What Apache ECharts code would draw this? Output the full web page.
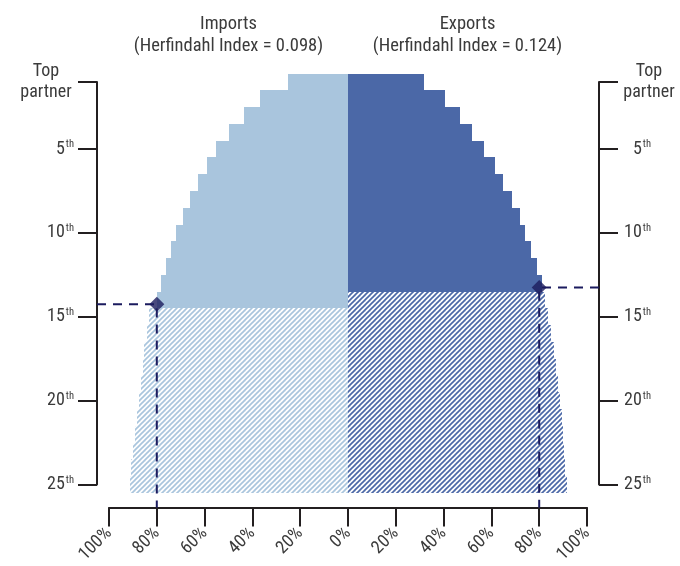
<!DOCTYPE html>
<html>
<head>
<meta charset="utf-8">
<script src="https://cdn.jsdelivr.net/npm/echarts@6/dist/echarts.min.js"></script>
<style>
  html, body { margin: 0; padding: 0; background: #fff; }
  #chart { width: 680px; height: 566px; }
</style>
</head>
<body>
<div id="chart"></div>
<script>
// Partner rank, from the top partner down to the 25th
const ranks = [1, 2, 3, 4, 5, 6, 7, 8, 9, 10, 11, 12, 13, 14, 15, 16, 17, 18, 19, 20, 21, 22, 23, 24, 25];

// Cumulative share of trade covered by the top N partners (%)
const importShares = [25.3, 36.7, 43.6, 49.6, 55.4, 59.2, 62.8, 66.0, 69.2, 71.8, 73.9, 76.1, 78.1, 80.0,
                      83.3, 84.2, 85.2, 85.8, 86.7, 87.5, 88.3, 89.2, 90.0, 90.6, 91.3];
const exportShares = [31.7, 40.4, 46.7, 51.8, 56.7, 61.3, 64.9, 68.6, 72.0, 74.0, 76.4, 78.9, 81.0, 82.5,
                      83.8, 85.0, 86.3, 87.1, 87.9, 88.8, 89.4, 90.0, 90.4, 91.0, 91.5];

// Number of partners needed to reach the 80% mark
const coverageShare = 80;
const importPartnersAt80 = 14.25;
const exportPartnersAt80 = 13.25;

const rankTicks = [1, 5, 10, 15, 20, 25];
const sideTitles = ['Imports\n(Herfindahl Index = 0.098)', 'Exports\n(Herfindahl Index = 0.124)'];

const FONT = "'Roboto Condensed', 'Liberation Sans Narrow', Roboto, sans-serif";
const TEXT = '#3b3b3b';
const AXIS = '#231f20';
const LIGHT = '#a9c5dd';
const DARK = '#4b68a7';
const NAVY = '#1b1b5e';
const Y_AXIS_GAP = 12;   // rank axes sit a little outside the plot
const X_AXIS_GAP = 23;   // share axis sits below the last rank
const LABEL_SIZE = 18;

// Diagonal "/" stripes used for partners beyond the 80% mark
function hatchTile(color) {
  const p = 5;
  const c = document.createElement('canvas');
  c.width = p; c.height = p;
  const ctx = c.getContext('2d');
  ctx.strokeStyle = color;
  ctx.lineWidth = 1.7;
  ctx.lineCap = 'butt';
  for (const k of [0, p, 2 * p]) {
    ctx.beginPath();
    ctx.moveTo(-3, k + 3);
    ctx.lineTo(p + 3, k - p - 3);
    ctx.stroke();
  }
  return c;
}

function shareBars(name, shares, partnersAt80, solid, side) {
  const pattern = { type: 'pattern', image: hatchTile(solid), repeat: 'repeat' };
  const core = Math.floor(partnersAt80);
  return {
    name, type: 'custom', clip: false, silent: true, z: 2,
    data: shares.map((v, i) => [side * v, ranks[i]]),
    renderItem(params, api) {
      const v = api.value(0), r = api.value(1);
      const a = api.coord([0, r - 0.5]);
      const b = api.coord([v, r + 0.5]);
      const x0 = Math.round(Math.min(a[0], b[0])), x1 = Math.round(Math.max(a[0], b[0]));
      const y0 = Math.round(Math.min(a[1], b[1])), y1 = Math.round(Math.max(a[1], b[1]));
      return {
        type: 'rect',
        shape: { x: x0, y: y0, width: x1 - x0, height: y1 - y0 },
        style: { fill: r <= core ? solid : pattern }
      };
    }
  };
}

const richText = {
  t: { fontFamily: FONT, fontSize: LABEL_SIZE, color: TEXT, width: 56, align: 'center', lineHeight: 21 },
  n: { fontFamily: FONT, fontSize: LABEL_SIZE, color: TEXT, lineHeight: 20 },
  s: { fontFamily: FONT, fontSize: 10.5, color: TEXT, verticalAlign: 'top', lineHeight: 12, padding: [0, 0, 0, 1] }
};
const rankFormatter = v => v === 1 ? '{t|Top}\n{t|partner}' : '{n|' + v + '}{s|th}';

function rankAxis(opts) {
  return Object.assign({
    type: 'value', inverse: true, min: 1, max: 25,
    offset: Y_AXIS_GAP,
    splitLine: { show: false },
    axisLine: { show: true, onZero: false, lineStyle: { color: AXIS, width: 2 } },
    axisTick: { show: true, customValues: rankTicks, length: 19, lineStyle: { color: AXIS, width: 2 } }
  }, opts);
}

const chart = echarts.init(document.getElementById('chart'), null, { renderer: 'canvas' });

chart.setOption({
  animation: false,
  backgroundColor: '#fff',
  grid: { left: 109, right: 91, top: 82, bottom: 79, containLabel: false },
  xAxis: {
    type: 'value', min: -100, max: 100, interval: 20,
    position: 'bottom', offset: X_AXIS_GAP,
    splitLine: { show: false },
    axisLine: { show: true, onZero: false, lineStyle: { color: AXIS, width: 2 } },
    axisTick: { show: true, length: 19, lineStyle: { color: AXIS, width: 2 } },
    axisLabel: {
      rotate: 45, margin: 23, color: TEXT, fontFamily: FONT, fontSize: 18,
      formatter: v => Math.abs(v) + '%'
    }
  },
  yAxis: [
    // left rank axis, labels right-aligned against the ticks
    rankAxis({
      position: 'left',
      axisLabel: { show: true, customValues: rankTicks, margin: 23, align: 'right',
                   formatter: rankFormatter, rich: richText }
    }),
    // right rank axis, ordinal labels
    rankAxis({
      position: 'right',
      axisLabel: { show: true, customValues: rankTicks.slice(1), margin: 52, align: 'right',
                   formatter: rankFormatter, rich: richText }
    }),
    // right "Top partner" caption
    rankAxis({
      position: 'right',
      axisLine: { show: false, onZero: false },
      axisTick: { show: false },
      axisLabel: { show: true, customValues: [rankTicks[0]], margin: 22, align: 'left',
                   formatter: rankFormatter, rich: richText }
    })
  ],
  series: [
    shareBars('Imports', importShares, importPartnersAt80, LIGHT, -1),
    shareBars('Exports', exportShares, exportPartnersAt80, DARK, 1),
    {
      name: '80% guides', type: 'custom', clip: false, silent: true, z: 3,
      data: [[-coverageShare, importPartnersAt80, -1], [coverageShare, exportPartnersAt80, 1]],
      renderItem(params, api) {
        const p = api.coord([api.value(0), api.value(1)]);
        const cs = params.coordSys;
        const axisX = api.value(2) < 0 ? cs.x - Y_AXIS_GAP : cs.x + cs.width + Y_AXIS_GAP;
        const axisY = cs.y + cs.height + X_AXIS_GAP;
        return {
          type: 'polyline',
          shape: { points: [[axisX, p[1]], [p[0], p[1]], [p[0], axisY]] },
          style: { stroke: NAVY, lineWidth: 2, lineDash: [9, 7], fill: null }
        };
      }
    },
    {
      name: '80% coverage', type: 'scatter', symbol: 'diamond', symbolSize: 15, z: 4, silent: true,
      itemStyle: { color: NAVY },
      data: [[-coverageShare, importPartnersAt80], [coverageShare, exportPartnersAt80]]
    }
  ]
});

// Side headings centred over the middle of each half
const leftMid = chart.convertToPixel({ gridIndex: 0 }, [-50, 1])[0];
const rightMid = chart.convertToPixel({ gridIndex: 0 }, [50, 1])[0];
chart.setOption({
  graphic: sideTitles.map((t, i) => ({
    type: 'text', x: i === 0 ? leftMid : rightMid, y: 13,
    style: { text: t, align: 'center', fill: TEXT, fontFamily: FONT, fontSize: 18.5, lineHeight: 22 }
  }))
});
</script>
</body>
</html>
